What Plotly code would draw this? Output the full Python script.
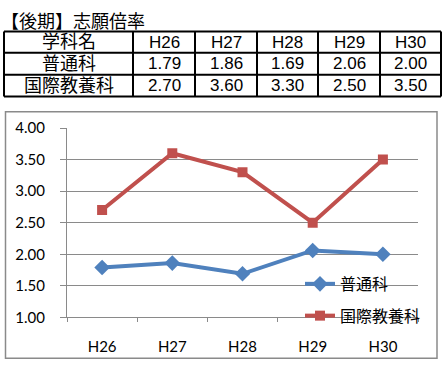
import plotly.graph_objects as go

W, H = 445, 372

title_text = "【後期】志願倍率"
header_label = "学科名"
years = ["H26", "H27", "H28", "H29", "H30"]
series_names = ["普通科", "国際教養科"]
futsu = [1.79, 1.86, 1.69, 2.06, 2.00]
kokusai = [2.70, 3.60, 3.30, 2.50, 3.50]
yticks = [1.0, 1.5, 2.0, 2.5, 3.0, 3.5, 4.0]

def px(x):
    return x / W

def py(y):
    return 1 - y / H

JP_TAB = "'Liberation Sans', 'Noto Sans CJK JP', sans-serif"
JP = "'Noto Sans CJK JP', 'Noto Sans', sans-serif"
NUM = "'Liberation Sans', Arial, sans-serif"
CH = "Lato, 'Noto Sans CJK JP', sans-serif"

blue = "#4F81BD"
red = "#C0504D"

fig = go.Figure()
fig.add_trace(go.Scatter(x=years, y=futsu, name=series_names[0], mode="lines+markers",
                         line=dict(color=blue, width=4),
                         marker=dict(symbol="diamond", size=12, color=blue),
                         legendgroup="a"))
fig.add_trace(go.Scatter(x=years, y=kokusai, name=series_names[1], mode="lines+markers",
                         line=dict(color=red, width=4),
                         marker=dict(symbol="square", size=10, color=red),
                         legendgroup="b"))

# chart geometry (pixels)
pl, pr, pt, pb = 67, 418, 124, 323

shapes = []
annotations = []

# chart box
shapes.append(dict(type="rect", xref="paper", yref="paper",
                   x0=px(5.5), x1=px(437), y0=py(366), y1=py(107),
                   line=dict(color="#8a8a8a", width=1.5), layer="below"))

# table
col_edges = [4, 133, 195, 257, 318, 380, 441]
row_edges = [22.5, 45, 68, 91]
for xe in col_edges:
    shapes.append(dict(type="line", xref="paper", yref="paper",
                       x0=px(xe), x1=px(xe), y0=py(row_edges[0]), y1=py(row_edges[-1]),
                       line=dict(color="black", width=2)))
for ye in row_edges:
    shapes.append(dict(type="line", xref="paper", yref="paper",
                       x0=px(col_edges[0]), x1=px(col_edges[-1]), y0=py(ye), y1=py(ye),
                       line=dict(color="black", width=2)))

rows = [[header_label] + years,
        [series_names[0]] + [f"{v:.2f}" for v in futsu],
        [series_names[1]] + [f"{v:.2f}" for v in kokusai]]
for ri, row in enumerate(rows):
    yc = (row_edges[ri] + row_edges[ri + 1]) / 2
    for ci, txt in enumerate(row):
        xc = (col_edges[ci] + col_edges[ci + 1]) / 2
        fam = JP_TAB if ci == 0 else NUM
        size = 18 if ci == 0 else 17
        annotations.append(dict(text=txt, xref="paper", yref="paper",
                                x=px(xc), y=py(yc), xanchor="center", yanchor="middle",
                                showarrow=False, borderpad=0,
                                font=dict(family=fam, size=size, color="black")))

annotations.append(dict(text=title_text, xref="paper", yref="paper",
                        x=px(0), y=py(13), xanchor="left", yanchor="middle",
                        showarrow=False, borderpad=0,
                        font=dict(family=JP_TAB, size=18, color="black")))

fig.update_layout(
    width=W, height=H,
    margin=dict(l=0, r=0, t=0, b=0),
    paper_bgcolor="white", plot_bgcolor="white",
    shapes=shapes, annotations=annotations,
    showlegend=True,
    legend=dict(x=px(300), y=py(270), xanchor="left", yanchor="top",
                bgcolor="rgba(0,0,0,0)", font=dict(family=JP, size=16, color="black"),
                tracegroupgap=8, itemwidth=30),
    xaxis=dict(domain=[px(pl), px(pr)], type="category", range=[-0.5, 4.5],
               showgrid=False, showline=True, linecolor="#8a8a8a", linewidth=1,
               ticks="outside", ticklen=4, tickcolor="#8a8a8a", tickson="boundaries",
               ticklabelstandoff=16,
               tickfont=dict(family=CH, size=15, color="black"), anchor="y", fixedrange=True),
    yaxis=dict(domain=[py(pb), py(pt)], range=[1, 4], tickvals=yticks, tickformat=".2f",
               showgrid=True, gridcolor="#8a8a8a", gridwidth=1,
               showline=True, linecolor="#8a8a8a", linewidth=1,
               ticks="outside", ticklen=6, tickcolor="#8a8a8a",
               ticklabelstandoff=12, zeroline=False,
               tickfont=dict(family=CH, size=15, color="black"), anchor="x", fixedrange=True),
)

fig.write_html("out.html", config={"displayModeBar": False},
               post_script="document.body.style.margin='0';")
